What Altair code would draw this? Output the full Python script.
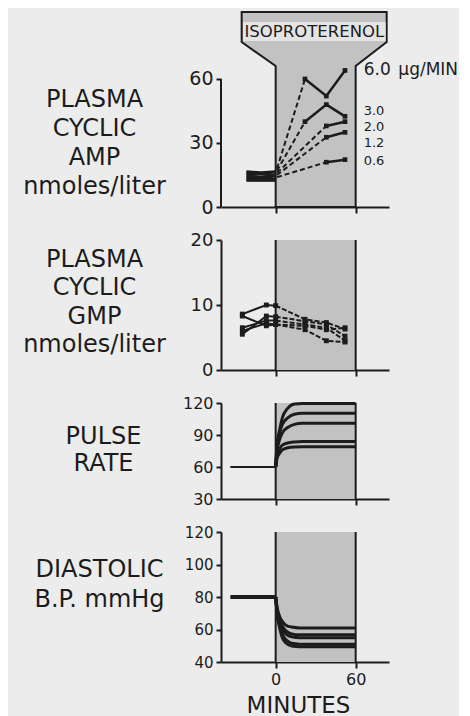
import altair as alt
import pandas as pd

INK = "#1c1c1c"
SHADE = "#c2c2c2"
BG = "#ececec"
FONT = "DejaVu Sans"
X_DOMAIN = [-41, 85]

# ---------------- Panel 1: plasma cyclic AMP ----------------
amp_doses = ["6.0", "3.0", "2.0", "1.2", "0.6"]
amp_pre_times = [-22, -11, 0]
amp_pre_values = [[16.5, 16.0, 16.5], [15.5, 15.5, 15.0], [14.5, 14.0, 14.5],
                  [13.5, 13.5, 13.0], [12.5, 12.5, 12.5]]
amp_rise_time = 1
amp_rise_start = [18.0, 17.0, 16.0, 15.0, 14.0]
amp_post_times = [[22, 38, 52], [22, 38, 52], [38, 52], [38, 52], [38, 52]]
amp_post_values = [[60, 52, 64], [40, 48, 42.5], [38, 40], [32.7, 35], [21, 22.2]]
amp_label_values = [64.2, 45.0, 37.6, 30.0, 21.4]
amp_label_sizes = [17, 13, 13, 13, 13]
amp_label_time = 66
unit_label = "μg/MIN"
unit_time = 92

header_v = [0, 66.1, 77.3, 91.4]
header_left = [0, 0, -25.5, -25.5]
header_right = [60, 60, 83.25, 83.25]
header_text = "ISOPROTERENOL"
band_t = [-24.5, 82.5]
band_v = [77.8, 86.7]
header_text_t = 29
header_text_v = 82.0

# ---------------- Panel 2: plasma cyclic GMP ----------------
gmp_times = [-25, -7, 0, 22, 38, 52]
gmp_values = [[8.6, 10.0, 9.9, 7.8, 7.3, 6.3],
              [5.5, 8.3, 8.2, 7.5, 7.0, 5.2],
              [8.3, 6.8, 7.0, 6.8, 6.2, 6.5],
              [6.5, 7.6, 7.6, 7.0, 6.5, 4.5],
              [6.0, 7.2, 7.0, 6.2, 4.5, 4.3]]

# ---------------- Panel 3: pulse rate ----------------
pulse_pre_times = [-34, 0]
pulse_pre_value = 60
pulse_times = [0, 1, 3, 5, 9, 14, 20, 60]
pulse_values = [[60, 80, 95, 106, 115, 119, 119.5, 119.5],
                [60, 78, 92, 100, 106, 109.5, 110.5, 110.5],
                [60, 74, 86, 92, 97, 100, 101, 101],
                [60, 70, 77, 80.5, 82.5, 83.5, 84, 84],
                [60, 68, 73, 76, 78, 78.8, 79, 79]]

# ---------------- Panel 4: diastolic BP ----------------
bp_pre_times = [-34, 0]
bp_pre_value = 80
bp_times = [0, 1, 3, 5, 8, 12, 18, 60]
bp_values = [[80, 74, 68, 65, 62.5, 61.5, 61, 61],
             [80, 73, 66, 62, 59, 57.3, 56.7, 56.7],
             [80, 72, 64, 60, 57, 55.5, 55, 55],
             [80, 71, 62, 57, 53.5, 51.5, 51, 51],
             [80, 70, 61, 55, 51.5, 49.8, 49.4, 49.4]]

shade_t = [0, 60]


# ---------------- helpers ----------------
def x_axis(bottom=False):
    kw = dict(values=[0, 60], tickSize=6, tickColor=INK, tickWidth=2,
              domainColor=INK, domainWidth=2, grid=False)
    if bottom:
        return alt.Axis(labels=True, labelFont=FONT, labelFontSize=16, labelColor=INK,
                        labelPadding=3, title="MINUTES", titleFont=FONT, titleFontSize=23,
                        titleFontWeight="normal", titleColor=INK, titlePadding=7,
                        titleX=77, format="d", **kw)
    return alt.Axis(labels=False, title=None, **kw)


def y_axis(values, title, tx, ty, lh, lsize, domain=True):
    return alt.Axis(values=values, title=title, titleAngle=0, titleAlign="center",
                    titleBaseline="alphabetic", titleX=tx, titleY=ty, titleLineHeight=lh,
                    titleFont=FONT, titleFontSize=24, titleFontWeight="normal",
                    titleColor=INK, titleLimit=400,
                    labelFont=FONT, labelFontSize=lsize, labelColor=INK, labelPadding=3,
                    tickSize=5, tickColor=INK, tickWidth=2, domain=domain,
                    domainColor=INK, domainWidth=2, grid=False, format="d")


def X(field, axis):
    return alt.X(field, type="quantitative",
                 scale=alt.Scale(domain=X_DOMAIN, nice=False, zero=False), axis=axis)


def Y(field, domain, axis):
    return alt.Y(field, type="quantitative",
                 scale=alt.Scale(domain=domain, nice=False, zero=False), axis=axis)


W = 168

# ---------------- Panel 1 build ----------------
ax1 = x_axis()
ya1 = y_axis([0, 30, 60], ["PLASMA", "CYCLIC", "AMP", "nmoles/liter"], -127, 94, 29, 19, domain=False)
D1 = [0, 91.4]

header_df = pd.DataFrame({"v": header_v, "l": header_left, "r": header_right})
header = alt.Chart(header_df).mark_area(orient="horizontal", fill=SHADE, stroke=INK,
                                        strokeWidth=2, opacity=1).encode(
    y=Y("v", D1, ya1), x=X("l", ax1), x2="r")

band_df = pd.DataFrame({"t0": [band_t[0]], "t1": [band_t[1]], "v0": [band_v[0]], "v1": [band_v[1]]})
band = alt.Chart(band_df).mark_rect(fill="#e4e4e4").encode(
    x=X("t0", ax1), x2="t1", y=Y("v0", D1, ya1), y2="v1")

htext = alt.Chart(pd.DataFrame({"t": [header_text_t], "v": [header_text_v], "s": [header_text]})).mark_text(
    font=FONT, fontSize=16.5, color=INK,
    baseline="middle", align="center").encode(x=X("t", ax1), y=Y("v", D1, ya1), text="s")

yline = alt.Chart(pd.DataFrame({"t": [X_DOMAIN[0]], "v0": [0], "v1": [60]})).mark_rule(
    color=INK, strokeWidth=2).encode(x=X("t", ax1), y=Y("v0", D1, ya1), y2="v1")

pre_rows, rise_rows, post_rows = [], [], []
for i, d in enumerate(amp_doses):
    for t, v in zip(amp_pre_times, amp_pre_values[i]):
        pre_rows.append({"t": t, "v": v, "dose": d})
    rise_rows.append({"t": amp_rise_time, "v": amp_rise_start[i], "dose": d})
    rise_rows.append({"t": amp_post_times[i][0], "v": amp_post_values[i][0], "dose": d})
    for t, v in zip(amp_post_times[i], amp_post_values[i]):
        post_rows.append({"t": t, "v": v, "dose": d})
pre_df, rise_df, post_df = pd.DataFrame(pre_rows), pd.DataFrame(rise_rows), pd.DataFrame(post_rows)

amp_pre = alt.Chart(pre_df).mark_line(color=INK, strokeWidth=3).encode(
    x=X("t", ax1), y=Y("v", D1, ya1), detail="dose:N")
amp_rise = alt.Chart(rise_df).mark_line(color=INK, strokeWidth=2, strokeDash=[5, 3]).encode(
    x=X("t", ax1), y=Y("v", D1, ya1), detail="dose:N")
amp_post = alt.Chart(post_df).mark_line(color=INK, strokeWidth=2.5).encode(
    x=X("t", ax1), y=Y("v", D1, ya1), detail="dose:N")
amp_pts = alt.Chart(post_df).mark_point(filled=True, shape="square", size=22, color=INK, opacity=1).encode(
    x=X("t", ax1), y=Y("v", D1, ya1))

lab_df = pd.DataFrame({"t": [amp_label_time] * len(amp_doses), "v": amp_label_values,
                       "s": amp_doses, "fs": amp_label_sizes})
amp_labels = alt.Chart(lab_df).mark_text(font=FONT, color=INK, align="left",
                                         baseline="middle").encode(
    x=X("t", ax1), y=Y("v", D1, ya1), text="s",
    size=alt.Size("fs:Q", scale=None, legend=None))
unit = alt.Chart(pd.DataFrame({"t": [unit_time], "v": [amp_label_values[0]], "s": [unit_label]})).mark_text(
    font=FONT, fontSize=17, color=INK, align="left", baseline="middle").encode(
    x=X("t", ax1), y=Y("v", D1, ya1), text="s")

p1 = alt.layer(header, band, htext, yline, amp_pre, amp_rise, amp_post, amp_pts,
               amp_labels, unit).properties(width=W, height=195)


# ---------------- shaded helpers ----------------
def shading(domain, xa, ya):
    df = pd.DataFrame({"t0": [shade_t[0]], "t1": [shade_t[1]], "v0": [domain[0]], "v1": [domain[1]]})
    rect = alt.Chart(df).mark_rect(fill=SHADE).encode(
        x=X("t0", xa), x2="t1", y=Y("v0", domain, ya), y2="v1")
    edf = pd.DataFrame({"t": shade_t, "v0": [domain[0]] * 2, "v1": [domain[1]] * 2})
    edges = alt.Chart(edf).mark_rule(color=INK, strokeWidth=2).encode(
        x=X("t", xa), y=Y("v0", domain, ya), y2="v1")
    return rect, edges


# ---------------- Panel 2 ----------------
ax2 = x_axis()
ya2 = y_axis([0, 10, 20], ["PLASMA", "CYCLIC", "GMP", "nmoles/liter"], -127, 26, 28.5, 18)
D2 = [0, 20]
g_pre, g_post = [], []
for i, vals in enumerate(gmp_values):
    for t, v in zip(gmp_times, vals):
        row = {"t": t, "v": v, "s": f"s{i}"}
        if t <= 0:
            g_pre.append(row)
        if t >= 0:
            g_post.append(row)
g_pre_df, g_post_df = pd.DataFrame(g_pre), pd.DataFrame(g_post)
g_all = pd.DataFrame([{"t": t, "v": v} for vals in gmp_values for t, v in zip(gmp_times, vals)])
r2, e2 = shading(D2, ax2, ya2)
gl1 = alt.Chart(g_pre_df).mark_line(color=INK, strokeWidth=2).encode(
    x=X("t", ax2), y=Y("v", D2, ya2), detail="s:N")
gl2 = alt.Chart(g_post_df).mark_line(color=INK, strokeWidth=2, strokeDash=[5, 2]).encode(
    x=X("t", ax2), y=Y("v", D2, ya2), detail="s:N")
gp = alt.Chart(g_all).mark_point(filled=True, shape="square", size=24, color=INK, opacity=1).encode(
    x=X("t", ax2), y=Y("v", D2, ya2))
p2 = alt.layer(r2, e2, gl1, gl2, gp).properties(width=W, height=130)

# ---------------- Panel 3 ----------------
ax3 = x_axis()
ya3 = y_axis([30, 60, 90, 120], ["PULSE", "RATE"], -118, 40, 27, 16)
D3 = [30, 120]
r3, e3 = shading(D3, ax3, ya3)
pp_df = pd.DataFrame({"t": pulse_pre_times, "v": [pulse_pre_value] * 2})
pc_df = pd.DataFrame([{"t": t, "v": v, "s": f"s{i}"} for i, vals in enumerate(pulse_values)
                      for t, v in zip(pulse_times, vals)])
pl1 = alt.Chart(pp_df).mark_line(color=INK, strokeWidth=2).encode(
    x=X("t", ax3), y=Y("v", D3, ya3))
pl2 = alt.Chart(pc_df).mark_line(color=INK, strokeWidth=3, interpolate="monotone").encode(
    x=X("t", ax3), y=Y("v", D3, ya3), detail="s:N")
p3 = alt.layer(r3, e3, pl1, pl2).properties(width=W, height=96)

# ---------------- Panel 4 ----------------
ax4 = x_axis(bottom=True)
ya4 = y_axis([40, 60, 80, 100, 120], ["DIASTOLIC", "B.P. mmHg"], -122, 44, 30, 15)
D4 = [40, 120]
r4, e4 = shading(D4, ax4, ya4)
bp_df = pd.DataFrame({"t": bp_pre_times, "v": [bp_pre_value] * 2})
bc_df = pd.DataFrame([{"t": t, "v": v, "s": f"s{i}"} for i, vals in enumerate(bp_values)
                      for t, v in zip(bp_times, vals)])
bl1 = alt.Chart(bp_df).mark_line(color=INK, strokeWidth=4).encode(
    x=X("t", ax4), y=Y("v", D4, ya4))
bl2 = alt.Chart(bc_df).mark_line(color=INK, strokeWidth=3, interpolate="monotone").encode(
    x=X("t", ax4), y=Y("v", D4, ya4), detail="s:N")
p4 = alt.layer(r4, e4, bl1, bl2).properties(width=W, height=130)

chart = alt.vconcat(p1, p2, p3, p4, spacing=33).properties(
    bounds="flush", background=BG,
    padding={"left": 14, "top": 0, "right": 0, "bottom": 0},
).configure_view(stroke=None)

chart.save("out.html", embed_options={"renderer": "svg", "actions": False})
